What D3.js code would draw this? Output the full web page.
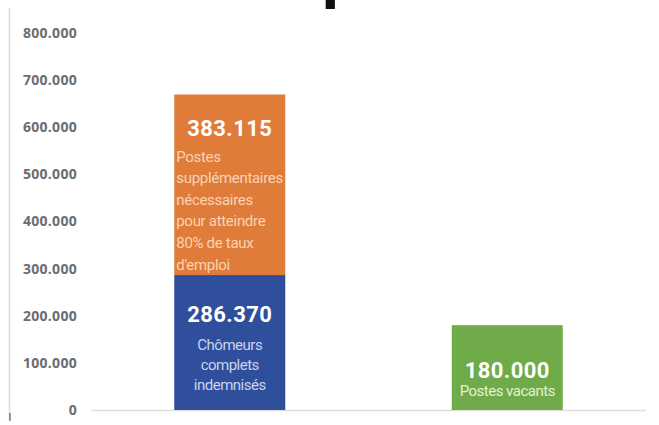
<!DOCTYPE html>
<html>
<head>
<meta charset="utf-8">
<script src="https://cdn.jsdelivr.net/npm/d3@7"></script>
<style>
  html, body { margin: 0; padding: 0; background: #fff; }
  svg { display: block; }
</style>
</head>
<body>
<svg id="chart" width="659" height="425"></svg>
<script>
// ---- data ----
const categories = ["Demande", "Offre"];
const chomeurs = [286370, 0];          // Chômeurs complets indemnisés
const postesSupp = [383115, 0];        // Postes supplémentaires nécessaires
const postesVacants = [0, 180000];     // Postes vacants
const yTicks = [0, 100000, 200000, 300000, 400000, 500000, 600000, 700000, 800000];
const valueLabels = ["286.370", "383.115", "180.000"];
const textBlue = ["Chômeurs", "complets", "indemnisés"];
const textOrange = ["Postes", "supplémentaires", "nécessaires", "pour atteindre", "80% de taux", "d'emploi"];
const textGreen = ["Postes vacants"];

const colors = { blue: "#2f4f9c", orange: "#e07c3a", green: "#6fab48" };

const svg = d3.select("#chart");
const fmt = v => v === 0 ? "0" : d3.format(",")(v).replace(/,/g, ".");

const x = d3.scaleBand().domain(categories).range([91, 646]).paddingInner(0.6).paddingOuter(0.3);
const y = d3.scaleLinear().domain([0, 800000]).range([410, 33]);

// cropped title fragment (the reference shows only the descender of a cut-off title)
svg.append("text").attr("x", 323).attr("y", -2)
  .attr("font-family", "Roboto, sans-serif").attr("font-weight", 900)
  .attr("font-size", 56).attr("fill", "#111").text("p");

// left frame line
svg.append("line").attr("x1", 9.5).attr("x2", 9.5).attr("y1", 8).attr("y2", 420)
  .attr("stroke", "#dcdcdc").attr("stroke-width", 1.5);
svg.append("line").attr("x1", 10).attr("x2", 10).attr("y1", 413).attr("y2", 421)
  .attr("stroke", "#777").attr("stroke-width", 1.5);

// y axis (labels only)
const yAxis = d3.axisLeft(y).tickValues(yTicks).tickFormat(fmt).tickSize(0).tickPadding(0);
const gy = svg.append("g").attr("transform", "translate(77,0)").call(yAxis);
gy.select(".domain").remove();
gy.selectAll("text")
  .attr("font-family", "'Open Sans', sans-serif").attr("font-weight", 700)
  .attr("font-size", 14).attr("letter-spacing", 0.3).attr("fill", "#6a6d72");

// baseline
svg.append("line").attr("x1", 91).attr("x2", 646).attr("y1", y(0) + 0.5).attr("y2", y(0) + 0.5)
  .attr("stroke", "#dedede").attr("stroke-width", 1.5);

// stacked bars
const stackData = categories.map((c, i) => ({ cat: c, chomeurs: chomeurs[i], postesSupp: postesSupp[i], postesVacants: postesVacants[i] }));
const stack = d3.stack().keys(["chomeurs", "postesSupp", "postesVacants"]);
const series = stack(stackData);
const keyColor = { chomeurs: colors.blue, postesSupp: colors.orange, postesVacants: colors.green };

svg.append("g").selectAll("g").data(series).join("g")
  .attr("fill", s => keyColor[s.key])
  .selectAll("rect").data(s => s.filter(d => d[1] - d[0] > 0)).join("rect")
  .attr("x", d => x(d.data.cat))
  .attr("width", x.bandwidth())
  .attr("y", d => y(d[1]))
  .attr("height", d => y(d[0]) - y(d[1]));

const bw = x.bandwidth();
const cx0 = x(categories[0]) + bw / 2;
const cx1 = x(categories[1]) + bw / 2;
const valueFont = "'Roboto', sans-serif";

function valueText(cx, yy, t) {
  svg.append("text").attr("x", cx).attr("y", yy).attr("text-anchor", "middle")
    .attr("font-family", valueFont).attr("font-weight", 700).attr("font-size", 22)
    .attr("letter-spacing", 0.4).attr("fill", "#ffffff").text(t);
}
function lines(arr, xx, y0, lh, anchor, fill, fs, ls) {
  const t = svg.append("text").attr("font-family", valueFont).attr("font-weight", 400)
    .attr("font-size", fs).attr("fill", fill).attr("text-anchor", anchor)
    .attr("letter-spacing", ls);
  arr.forEach((s, i) => t.append("tspan").attr("x", xx).attr("y", y0 + i * lh).text(s));
}

// blue segment labels
const blueTop = y(chomeurs[0]);
valueText(cx0, blueTop + 47, valueLabels[0]);
lines(textBlue, cx0, blueTop + 75, 20, "middle", "#c9d3ef", 15, -0.5);

// orange segment labels
const orangeTop = y(chomeurs[0] + postesSupp[0]);
valueText(cx0, orangeTop + 41, valueLabels[1]);
lines(textOrange, x(categories[0]) + 2, orangeTop + 67, 21.6, "start", "#fad2b4", 15, -0.3);

// green labels
const greenTop = y(postesVacants[1]);
valueText(cx1, greenTop + 53, valueLabels[2]);
lines(textGreen, cx1, greenTop + 71, 20, "middle", "#e3f1d4", 15, -0.5);
</script>
</body>
</html>
